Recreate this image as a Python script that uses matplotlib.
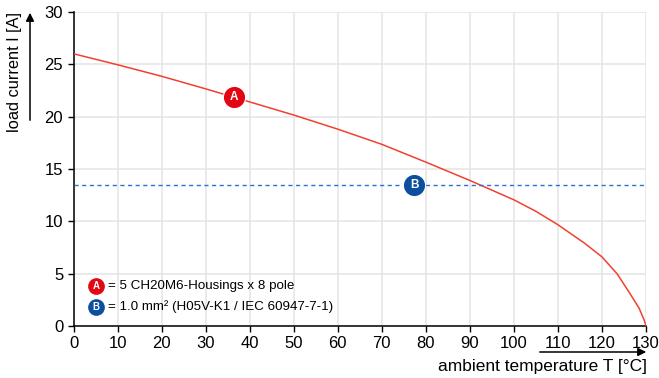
import matplotlib.pyplot as plt

plt.rcParams['font.family'] = ['Liberation Sans', 'DejaVu Sans']

# derating curve
temp = [0, 10, 20, 30, 40, 50, 60, 70, 80, 90, 100, 105, 110, 116, 120,
        123.5, 126.5, 128.4, 129.5, 130]
current = [26.0, 24.95, 23.85, 22.65, 21.4, 20.15, 18.8, 17.35, 15.65, 13.9,
           12.05, 10.95, 9.67, 7.92, 6.6, 4.95, 3.0, 1.72, 0.65, 0]
wire_limit = 13.5
marker_a = (36.4, 21.9)
marker_b = (77.4, 13.5)
legend_a = "= 5 CH20M6-Housings x 8 pole"
legend_b = "= 1.0 mm² (H05V-K1 / IEC 60947-7-1)"

red = '#e30613'
blue = '#0b4f9e'

fig = plt.figure(figsize=(6.59, 3.78), dpi=100)
ax = fig.add_axes([0.1117, 0.1376, 0.8686, 0.8309])

ax.plot(temp, current, color='#f0412f', lw=1.1, zorder=3)
ax.axhline(wire_limit, color='#2f6fd6', lw=1.0, ls=(0, (3, 2.5)), zorder=3)

for (x, y), c, t in [(marker_a, red, 'A'), (marker_b, blue, 'B')]:
    ax.plot(x, y, 'o', ms=16, color=c, mec='white', mew=0.8, zorder=5)
    ax.text(x, y, t, color='white', ha='center', va='center', fontsize=8.5,
            fontweight='bold', zorder=6)

ax.set_xlim(0, 130)
ax.set_ylim(0, 30)
ax.set_xticks(range(0, 131, 10))
ax.set_yticks(range(0, 31, 5))
ax.grid(True, color='#e4e4e4', lw=1.1, zorder=0)
ax.set_axisbelow(True)
for s in ['top', 'right']:
    ax.spines[s].set_visible(False)
for s in ['left', 'bottom']:
    ax.spines[s].set_color('black')
    ax.spines[s].set_linewidth(1.1)
ax.tick_params(labelsize=12, length=4, width=1, colors='black')

# legend-like notes
for fy, c, t, txt in [(286, red, 'A', legend_a), (307, blue, 'B', legend_b)]:
    yy = 1 - fy / 378
    fig.lines.append(plt.Line2D([96 / 659], [yy], marker='o', ms=11, color=c,
                                transform=fig.transFigure))
    fig.text(96 / 659, yy, t, color='white', ha='center', va='center',
             fontsize=7, fontweight='bold')
    fig.text(108 / 659, yy, txt, ha='left', va='center', fontsize=9.6)

# axis labels with arrows
fig.text(15 / 659, 1 - 72 / 378, 'load current I [A]', rotation=90,
         ha='center', va='center', fontsize=11.8)
ax.annotate('', xy=(30 / 659, 1 - 10 / 378), xytext=(30 / 659, 1 - 123 / 378),
            xycoords='figure fraction',
            arrowprops=dict(arrowstyle='-|>', color='black', lw=1.1,
                            mutation_scale=12))
fig.text(647 / 659, 1 - 366 / 378, 'ambient temperature T [°C]',
         ha='right', va='center', fontsize=12.5)
ax.annotate('', xy=(649 / 659, 1 - 352 / 378), xytext=(537 / 659, 1 - 352 / 378),
            xycoords='figure fraction',
            arrowprops=dict(arrowstyle='-|>', color='black', lw=1.1,
                            mutation_scale=12))

fig.savefig('out.png', dpi=100)
